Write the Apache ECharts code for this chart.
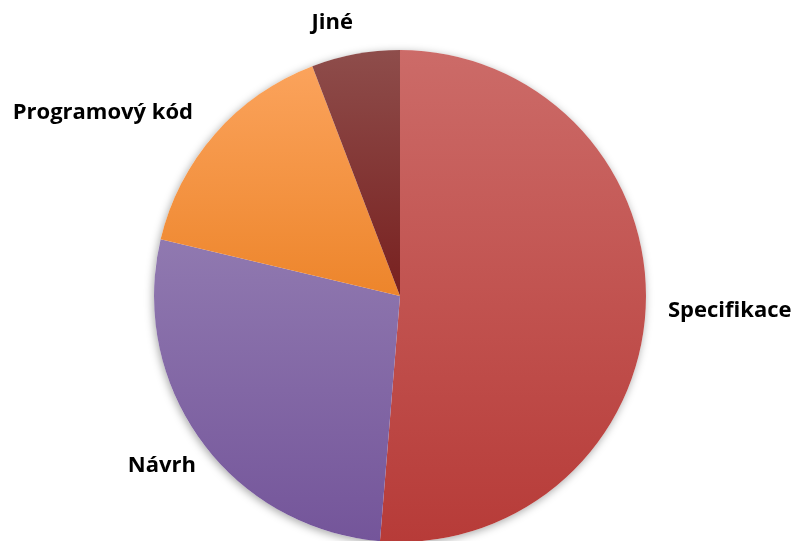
<!DOCTYPE html>
<html>
<head>
<meta charset="utf-8">
<script src="https://cdn.jsdelivr.net/npm/echarts@6/dist/echarts.min.js"></script>
<style>
  html, body { margin: 0; padding: 0; background: #fff; }
  #chart { width: 792px; height: 541px; }
</style>
</head>
<body>
<div id="chart"></div>
<script>
// Share of defects by origin (percent)
const categories = ['Specifikace', 'Návrh', 'Programový kód', 'Jiné'];
const values = [51.3, 27.4, 15.5, 5.8];

// Vertical gradient per slice: [top colour, bottom colour]
const sliceColors = [
  ['#cc6b68', '#b73b38'],
  ['#9079b0', '#74559a'],
  ['#fba35c', '#ed852b'],
  ['#8e4d4b', '#78201f']
];

// Label anchors (x, y, horizontal alignment) for each slice
const labelAnchors = [
  [668, 311, 'left'],
  [196, 466, 'right'],
  [193, 113, 'right'],
  [353, 23, 'right']
];

function grad(c) {
  return new echarts.graphic.LinearGradient(0, 0, 0, 1, [
    { offset: 0, color: c[0] },
    { offset: 1, color: c[1] }
  ]);
}

const chart = echarts.init(document.getElementById('chart'), null, { renderer: 'canvas' });

const data = categories.map((name, i) => ({
  name: name,
  value: values[i],
  itemStyle: { color: grad(sliceColors[i]) }
}));

chart.setOption({
  animation: false,
  backgroundColor: '#ffffff',
  series: [
    {
      // soft halo behind the disc
      type: 'pie',
      silent: true,
      center: [400, 296],
      radius: 246,
      startAngle: 90,
      label: { show: false },
      labelLine: { show: false },
      data: [{ value: 1, itemStyle: { color: '#ffffff', shadowBlur: 8, shadowColor: 'rgba(0,0,0,0.35)', shadowOffsetX: -1, shadowOffsetY: 2 } }]
    },
    {
      type: 'pie',
      center: [400, 296],
      radius: 246,
      startAngle: 90,
      clockwise: true,
      avoidLabelOverlap: false,
      itemStyle: { borderWidth: 0 },
      label: {
        show: true,
        position: 'outside',
        formatter: '{b}',
        fontFamily: 'Open Sans',
        fontWeight: 'bold',
        fontSize: 22,
        color: '#000000'
      },
      labelLine: { show: false, length: 20, length2: 0 },
      labelLayout: function (p) {
        const a = labelAnchors[p.dataIndex];
        return { x: a[0], y: a[1], align: a[2], verticalAlign: 'middle', hideOverlap: false };
      },
      data: data
    }
  ]
});
</script>
</body>
</html>
